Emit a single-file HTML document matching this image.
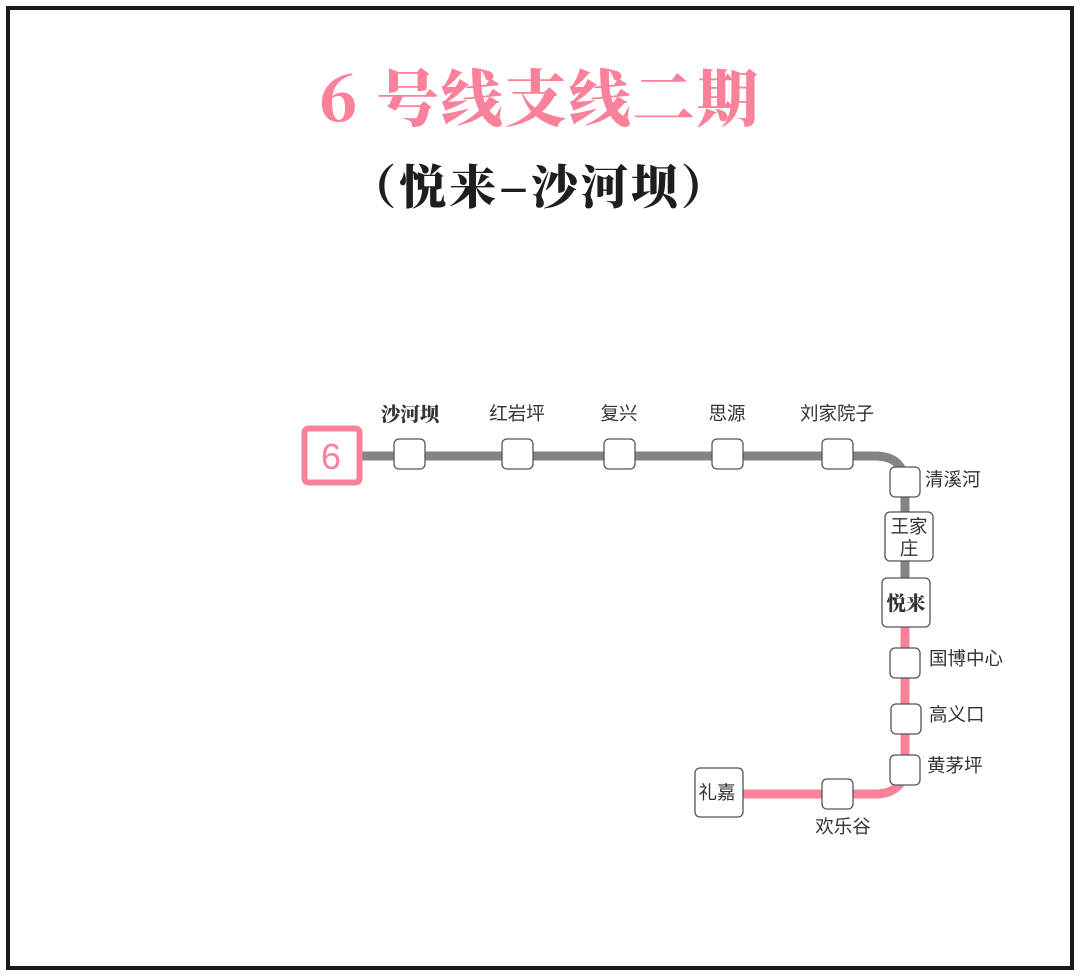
<!DOCTYPE html>
<html><head><meta charset="utf-8"><style>
html,body{margin:0;padding:0;background:#fff;}
svg{display:block;}
</style></head><body>
<svg width="1080" height="976" viewBox="0 0 1080 976" xmlns="http://www.w3.org/2000/svg">
<rect x="0" y="0" width="1080" height="976" fill="#fff"/>
<rect x="8" y="8" width="1064" height="960" fill="none" stroke="#1a1a1a" stroke-width="4"/>
<text x="540" y="121" text-anchor="middle" font-family="'Noto Serif CJK SC','Liberation Serif',serif" font-weight="900" font-size="62" fill="#f98199" letter-spacing="2">6 号线支线二期</text>
<text x="540" y="204" text-anchor="middle" font-family="'Noto Serif CJK SC','Liberation Serif',serif" font-weight="900" font-size="47" fill="#1e1e1e" letter-spacing="3">（悦来–沙河坝）</text>
<g fill="none" stroke-width="9">
<path d="M360 456 H875 Q905 456 905 486 V602" stroke="#848484"/>
<path d="M905 602 V764 Q905 794 875 794 H743" stroke="#f98199"/>
</g>
<rect x="304.5" y="428.5" width="55" height="54" rx="4" fill="#fff" stroke="#f98199" stroke-width="6"/>
<text x="331" y="469" text-anchor="middle" font-family="'Liberation Sans',sans-serif" font-size="36" fill="#f98199">6</text>
<g fill="#fff" stroke="#555" stroke-width="1.3">
<rect x="394" y="439" width="31" height="30" rx="5"/>
<rect x="502" y="439" width="31" height="30" rx="5"/>
<rect x="604" y="439" width="31" height="30" rx="5"/>
<rect x="712" y="439" width="31" height="30" rx="5"/>
<rect x="822" y="439" width="31" height="30" rx="5"/>
<rect x="890" y="467" width="30" height="30" rx="5"/>
<rect x="885" y="512" width="48" height="49" rx="5"/>
<rect x="882" y="578" width="48" height="49" rx="5"/>
<rect x="890" y="648" width="30" height="30" rx="5"/>
<rect x="891" y="704" width="30" height="30" rx="5"/>
<rect x="890" y="755" width="30" height="30" rx="5"/>
<rect x="822" y="779" width="31" height="30" rx="5"/>
<rect x="695" y="768" width="48" height="49" rx="5"/>
</g>
<g font-family="'Liberation Sans','Noto Sans CJK SC',sans-serif" font-size="18.5" fill="#333">
<text x="410" y="421" text-anchor="middle" font-family="'Noto Serif CJK SC',serif" font-weight="900" font-size="19.5">沙河坝</text>
<text x="517" y="420" text-anchor="middle">红岩坪</text>
<text x="619" y="420" text-anchor="middle">复兴</text>
<text x="727" y="420" text-anchor="middle">思源</text>
<text x="837" y="420" text-anchor="middle">刘家院子</text>
<text x="925" y="486">清溪河</text>
<text x="909" y="533" text-anchor="middle">王家</text>
<text x="909" y="555" text-anchor="middle">庄</text>
<text x="906" y="610" text-anchor="middle" font-family="'Noto Serif CJK SC',serif" font-weight="900" font-size="19.5">悦来</text>
<text x="929" y="665">国博中心</text>
<text x="929" y="721">高义口</text>
<text x="927" y="772">黄茅坪</text>
<text x="843" y="833" text-anchor="middle">欢乐谷</text>
<text x="717" y="799" text-anchor="middle">礼嘉</text>
</g>
</svg>
</body></html>
